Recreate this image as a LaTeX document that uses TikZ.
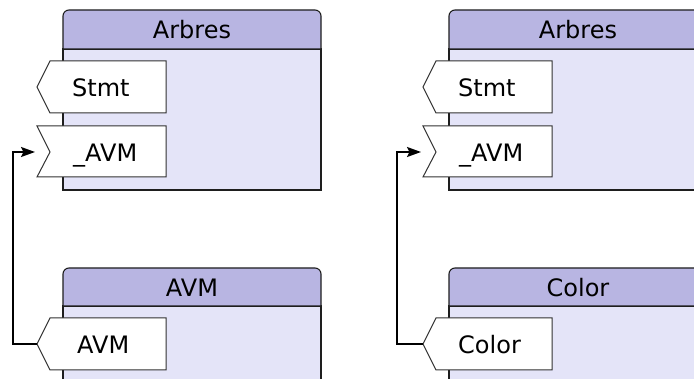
\documentclass[tikz,border=0pt]{standalone}
\usepackage{fontspec}
\setmainfont{DejaVu Sans}
\usetikzlibrary{arrows.meta}
\definecolor{hdr}{RGB}{184,181,226}
\definecolor{bdy}{RGB}{228,228,248}
\definecolor{edge}{RGB}{30,30,30}
\definecolor{portedge}{RGB}{50,50,50}
\tikzset{
  boxline/.style={draw=edge, line width=1.1pt},
  portshape/.style={draw=portedge, fill=white, line width=1pt},
  lbl/.style={anchor=base, inner sep=0pt, font=\fontsize{24}{28}\selectfont},
  plbl/.style={anchor=base west, inner sep=0pt, font=\fontsize{24}{28}\selectfont},
  conn/.style={draw=black, line width=2pt, -{Stealth[length=14pt,width=10pt,inset=2.5pt]}},
}
\begin{document}
\begin{tikzpicture}[x=1pt,y=-1pt]
\useasboundingbox (0,0) rectangle (694,379);
\clip (0,0) rectangle (694,379);
% ---------- class boxes ----------
\foreach \dx/\top/\hb/\bot in {0/10/49/190, 386/10/49/190, 0/268/306/420, 386/268/306/420}{
  \draw[boxline, fill=bdy] (63+\dx,\hb) rectangle (321+\dx,\bot);
  \draw[boxline, fill=hdr] (63+\dx,\hb) [rounded corners=6pt] -- (63+\dx,\top) -- (321+\dx,\top) [sharp corners] -- (321+\dx,\hb) -- cycle;
}
\node[lbl] (hArbresL) at (192,39) {Arbres};
\node[lbl] (hArbresR) at (578,39) {Arbres};
\node[lbl] (hAVM) at (192,297) {AVM};
\node[lbl] (hColor) at (578,297) {Color};
% ---------- ports ----------
\foreach \dx in {0,386}{
  \draw[portshape] (50+\dx,61) -- (166+\dx,61) -- (166+\dx,113) -- (50+\dx,113) -- (37+\dx,87) -- cycle;
  \draw[portshape] (37+\dx,126) -- (166+\dx,126) -- (166+\dx,177) -- (37+\dx,177) -- (50+\dx,152) -- cycle;
  \draw[portshape] (50+\dx,318) -- (166+\dx,318) -- (166+\dx,370) -- (50+\dx,370) -- (37+\dx,344) -- cycle;
}
\node[plbl] (stmtL) at (72,96.5) {Stmt};
\node[plbl] (avminL) at (73,161.5) {\_AVM};
\node[plbl] (avmout) at (77,353.5) {AVM};
\node[plbl] (stmtR) at (458,96.5) {Stmt};
\node[plbl] (avminR) at (459,161.5) {\_AVM};
\node[plbl] (colorout) at (458,353.5) {Color};
% ---------- connectors ----------
\coordinate (outL) at (37,344);
\coordinate (inL) at (35,152);
\coordinate (outR) at (423,344);
\coordinate (inR) at (421,152);
\draw[conn] (outL) -- ++(-24,0) |- (inL);
\draw[conn] (outR) -- ++(-26,0) |- (inR);
\end{tikzpicture}
\end{document}
